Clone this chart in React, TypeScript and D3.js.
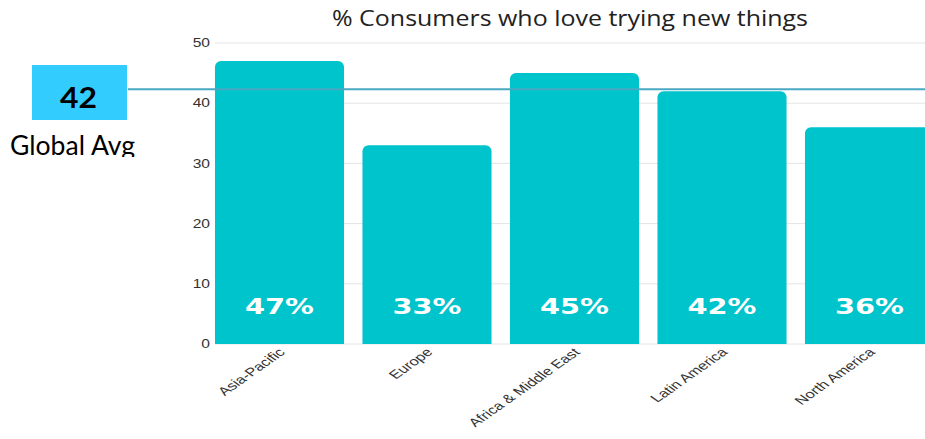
import React from "react";
import * as d3 from "d3";

const categories = ["Asia-Pacific", "Europe", "Africa & Middle East", "Latin America", "North America"];
const values = [47, 33, 45, 42, 36];
const yTicks = [0, 10, 20, 30, 40, 50];
const globalAvg = 42;
const title = "% Consumers who love trying new things";

const W = 925;
const H = 439;

export default function App() {
  const y = d3.scaleLinear().domain([0, 50]).range([344, 43]);
  const x = d3
    .scaleBand<string>()
    .domain(categories)
    .range([205.75, 943.25])
    .paddingInner(0.125)
    .paddingOuter(0.0625);
  const bw = x.bandwidth();
  const r = 6;
  const barPath = (cx: number, top: number, w: number, bottom: number) => {
    const p = d3.path();
    p.moveTo(cx, bottom);
    p.lineTo(cx, top + r);
    p.arcTo(cx, top, cx + r, top, r);
    p.lineTo(cx + w - r, top);
    p.arcTo(cx + w, top, cx + w, top + r, r);
    p.lineTo(cx + w, bottom);
    p.closePath();
    return p.toString();
  };
  const avgY = y(globalAvg) - 2;

  return (
    <svg
      width={W}
      height={H}
      style={{ position: "absolute", left: 0, top: 0, background: "#fff" }}
    >
      <defs>
        <clipPath id="lblclip">
          <rect x={0} y={121} width={200} height={36} />
        </clipPath>
      </defs>
      <text
        x={332}
        y={26}
        textLength={476}
        lengthAdjust="spacingAndGlyphs"
        fontFamily="'Open Sans', sans-serif"
        fontSize={21}
        fill="#222"
      >
        {title}
      </text>
      {yTicks.map((t) => (
        <g key={t}>
          <line x1={215} x2={W} y1={y(t)} y2={y(t)} stroke="#e4e4e4" strokeWidth={1} />
          <text
            transform={`translate(210,${y(t)}) scale(1.3,1)`}
            dy="0.35em"
            textAnchor="end"
            fontFamily="'Liberation Sans', Arial, sans-serif"
            fontSize={12}
            fill="#333"
          >
            {t}
          </text>
        </g>
      ))}
      {categories.map((c, i) => {
        const bx = x(c)!;
        return (
          <g key={c}>
            <path d={barPath(bx, y(values[i]), bw, y(0))} fill="#00c4cc" />
            <text
              x={bx + bw / 2 - 34.5}
              y={314}
              textLength={69}
              lengthAdjust="spacingAndGlyphs"
              fontFamily="'DejaVu Sans', sans-serif"
              fontWeight="bold"
              fontSize={22}
              fill="#fff"
            >
              {values[i]}%
            </text>
            <text
              transform={`translate(${bx + bw / 2 + 6.5},${353}) scale(1.42,1) rotate(-45)`}
              textAnchor="end"
              fontFamily="'Liberation Sans', Arial, sans-serif"
              fontSize={11.7}
              fill="#333"
            >
              {c}
            </text>
          </g>
        );
      })}
      <line x1={128} x2={W} y1={avgY} y2={avgY} stroke="#4aa8c2" strokeWidth={2} />
      <rect x={32} y={65} width={95} height={55} fill="#33ccff" />
      <text
        x={60}
        y={108}
        textLength={37}
        lengthAdjust="spacingAndGlyphs"
        fontFamily="Lato, 'Open Sans', sans-serif"
        fontWeight="bold"
        fontSize={29}
        fill="#000"
      >
        {globalAvg}
      </text>
      <text
        x={10}
        y={155}
        textLength={125}
        lengthAdjust="spacingAndGlyphs"
        clipPath="url(#lblclip)"
        fontFamily="Lato, 'Open Sans', sans-serif"
        fontSize={26}
        fill="#000"
      >
        Global Avg
      </text>
    </svg>
  );
}
